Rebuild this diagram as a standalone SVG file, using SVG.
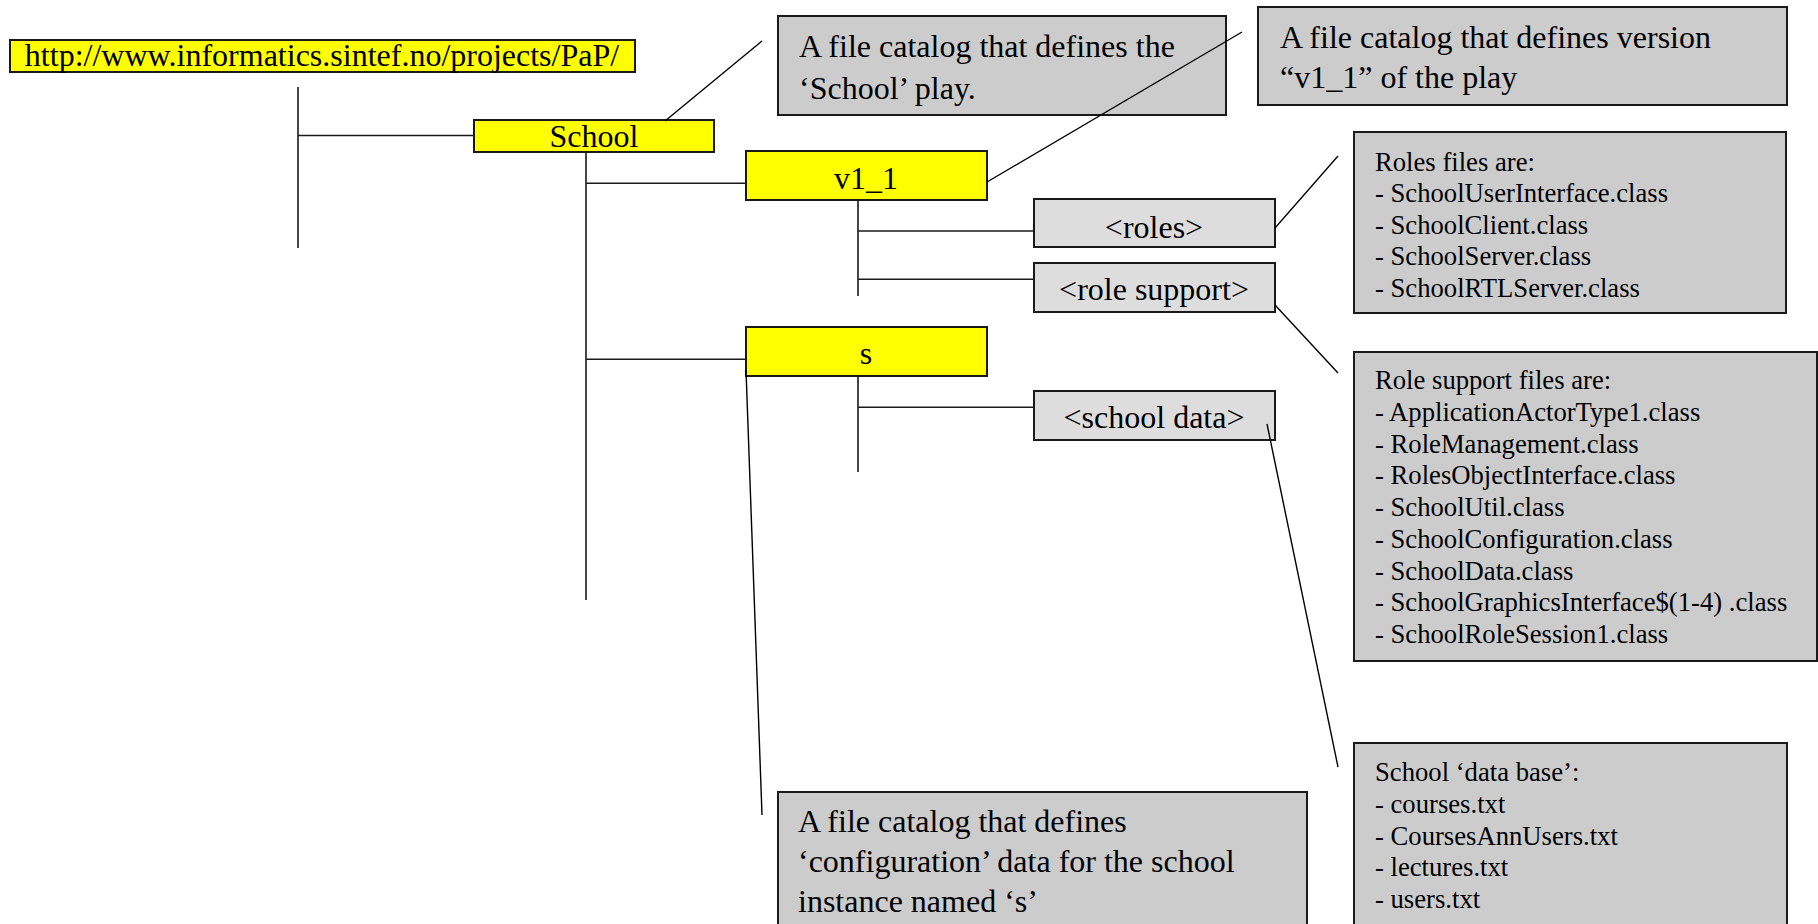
<svg xmlns="http://www.w3.org/2000/svg" width="1818" height="924" viewBox="0 0 1818 924">
  <style>
    text { font-family: "Liberation Serif", "Times New Roman", serif; fill: #000; }
    .big { font-size: 32px; }
    .small { font-size: 26.67px; }
    .mid { text-anchor: middle; }
    .folder { fill: #ffff00; stroke: #1a1a1a; stroke-width: 2; }
    .entry { fill: #dddddd; stroke: #1a1a1a; stroke-width: 2; }
    .note { fill: #cccccc; stroke: #1a1a1a; stroke-width: 2; }
    .tree line { stroke: #1a1a1a; stroke-width: 1.6; }
    .callout line { stroke: #000; stroke-width: 1.4; }
  </style>
  <rect width="1818" height="924" fill="#ffffff"/>

  <!-- directory nodes -->
  <g id="node-url">
    <rect class="folder" x="10" y="40" width="625" height="32"/>
    <text class="big mid" x="322" y="66">http://www.informatics.sintef.no/projects/PaP/</text>
  </g>
  <g id="node-school">
    <rect class="folder" x="474" y="120" width="240" height="32"/>
    <text class="big mid" x="594" y="147">School</text>
  </g>
  <g id="node-v1_1">
    <rect class="folder" x="746" y="151" width="241" height="49"/>
    <text class="big mid" x="866" y="189">v1_1</text>
  </g>
  <g id="node-roles">
    <rect class="entry" x="1034" y="199" width="241" height="48"/>
    <text class="big mid" x="1154" y="237.5">&lt;roles&gt;</text>
  </g>
  <g id="node-role-support">
    <rect class="entry" x="1034" y="263" width="241" height="49"/>
    <text class="big mid" x="1154" y="300">&lt;role support&gt;</text>
  </g>
  <g id="node-s">
    <rect class="folder" x="746" y="327" width="241" height="49"/>
    <text class="big mid" x="866" y="364">s</text>
  </g>
  <g id="node-school-data">
    <rect class="entry" x="1034" y="391" width="241" height="49"/>
    <text class="big mid" x="1154" y="428">&lt;school data&gt;</text>
  </g>

  <!-- explanatory notes -->
  <g id="note-school">
    <rect class="note" x="778" y="16" width="448" height="99"/>
    <text class="big" x="799" y="57">A file catalog that defines the</text>
    <text class="big" x="799" y="99">‘School’ play.</text>
  </g>
  <g id="note-version">
    <rect class="note" x="1258" y="7" width="529" height="98"/>
    <text class="big" x="1280" y="48">A file catalog that defines version</text>
    <text class="big" x="1280" y="88">“v1_1” of the play</text>
  </g>
  <g id="note-roles">
    <rect class="note" x="1354" y="132" width="432" height="181"/>
    <text class="small" x="1375" y="170.5">Roles files are:</text>
    <text class="small" x="1375" y="202">- SchoolUserInterface.class</text>
    <text class="small" x="1375" y="233.5">- SchoolClient.class</text>
    <text class="small" x="1375" y="265">- SchoolServer.class</text>
    <text class="small" x="1375" y="296.5">- SchoolRTLServer.class</text>
  </g>
  <g id="note-role-support">
    <rect class="note" x="1354" y="352" width="463" height="309"/>
    <text class="small" x="1375" y="389">Role support files are:</text>
    <text class="small" x="1375" y="421">- ApplicationActorType1.class</text>
    <text class="small" x="1375" y="452.5">- RoleManagement.class</text>
    <text class="small" x="1375" y="484">- RolesObjectInterface.class</text>
    <text class="small" x="1375" y="516">- SchoolUtil.class</text>
    <text class="small" x="1375" y="548">- SchoolConfiguration.class</text>
    <text class="small" x="1375" y="579.5">- SchoolData.class</text>
    <text class="small" x="1375" y="611">- SchoolGraphicsInterface$(1-4) .class</text>
    <text class="small" x="1375" y="643">- SchoolRoleSession1.class</text>
  </g>
  <g id="note-config">
    <rect class="note" x="778" y="792" width="529" height="150"/>
    <text class="big" x="798" y="832">A file catalog that defines</text>
    <text class="big" x="798" y="872">‘configuration’ data for the school</text>
    <text class="big" x="798" y="912">instance named ‘s’</text>
  </g>
  <g id="note-database">
    <rect class="note" x="1354" y="743" width="433" height="200"/>
    <text class="small" x="1375" y="781">School ‘data base’:</text>
    <text class="small" x="1375" y="813">- courses.txt</text>
    <text class="small" x="1375" y="844.5">- CoursesAnnUsers.txt</text>
    <text class="small" x="1375" y="876">- lectures.txt</text>
    <text class="small" x="1375" y="908">- users.txt</text>
  </g>

  <!-- tree branches and callout leaders, drawn over the boxes -->
  <g id="connectors">
    <g class="tree">
      <line x1="298" y1="87" x2="298" y2="248"/>
      <line x1="298" y1="135.5" x2="474" y2="135.5"/>
      <line x1="586" y1="152" x2="586" y2="600"/>
      <line x1="586" y1="183.3" x2="746" y2="183.3"/>
      <line x1="586" y1="359.3" x2="746" y2="359.3"/>
      <line x1="858" y1="200" x2="858" y2="296"/>
      <line x1="858" y1="231" x2="1034" y2="231"/>
      <line x1="858" y1="279.3" x2="1034" y2="279.3"/>
      <line x1="858" y1="376" x2="858" y2="472"/>
      <line x1="858" y1="407.3" x2="1034" y2="407.3"/>
    </g>
    <g class="callout">
      <line x1="665" y1="121" x2="762" y2="41"/>
      <line x1="987" y1="182" x2="1242" y2="32"/>
      <line x1="1275" y1="228" x2="1338" y2="156"/>
      <line x1="1275" y1="305" x2="1338" y2="373"/>
      <line x1="1267" y1="424" x2="1338" y2="767"/>
      <line x1="746" y1="370" x2="762" y2="815"/>
    </g>
  </g>
</svg>
